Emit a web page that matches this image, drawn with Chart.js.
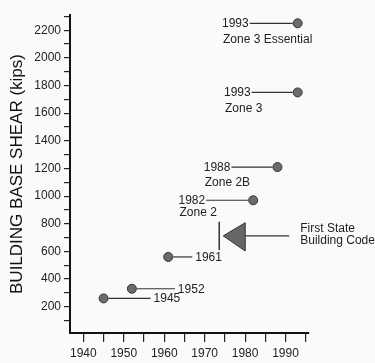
<!DOCTYPE html>
<html>
<head>
<meta charset="utf-8">
<script src="https://cdn.jsdelivr.net/npm/chart.js@4"></script>
<style>
  body { margin: 0; background: #fafafa; }
  canvas { display: block; }
</style>
</head>
<body>
<canvas id="chart" width="375" height="363"></canvas>
<script>
// code editions: year and base shear (kips)
var years = [1945, 1952, 1961, 1982, 1988, 1993, 1993];
var shear = [260, 330, 560, 970, 1210, 1750, 2250];
var yearLabels = ['1945', '1952', '1961', '1982', '1988', '1993', '1993'];
var zoneLabels = ['', '', '', 'Zone 2', 'Zone 2B', 'Zone 3', 'Zone 3 Essential'];

// first state building code marker
var codeYear = 1973.6;
var codeLow = 610;
var codeHigh = 815;
var codeText = ['First State', 'Building Code'];

var xTicks = [1940, 1945, 1950, 1955, 1960, 1965, 1970, 1975, 1980, 1985, 1990, 1995];
var yTicks = [];
for (var v = 100; v <= 2300; v += 100) yTicks.push(v);

// label placement (style only)
var labelSide = ['right', 'right', 'right', 'left', 'left', 'left', 'left'];
var leaderLen = [47, 43, 24, 47, 46, 46, 48];
var zoneGap = [0, 0, 0, 12, 16, 16, 16];

var FONT = '"Liberation Sans", Arial, Helvetica, sans-serif';
var INK = '#222';

var annotations = {
    id: 'annotations',
    afterDatasetsDraw: function (chart) {
        var ctx = chart.ctx;
        var xs = chart.scales.x;
        var ys = chart.scales.y;
        ctx.save();
        ctx.strokeStyle = '#333';
        ctx.lineWidth = 1.2;
        ctx.fillStyle = INK;
        ctx.font = '12px ' + FONT;
        ctx.textBaseline = 'middle';

        years.forEach(function (yr, i) {
            var px = xs.getPixelForValue(yr);
            var py = ys.getPixelForValue(shear[i]);
            var lead = leaderLen[i];
            ctx.beginPath();
            if (labelSide[i] === 'right') {
                ctx.moveTo(px + 5, py);
                ctx.lineTo(px + lead, py);
                ctx.stroke();
                ctx.textAlign = 'left';
                ctx.fillText(yearLabels[i], px + lead + 3, py + 0.5);
            } else {
                ctx.moveTo(px - 5, py);
                ctx.lineTo(px - lead, py);
                ctx.stroke();
                var w = ctx.measureText(yearLabels[i]).width;
                var left = px - lead - 1 - w;
                ctx.textAlign = 'left';
                ctx.fillText(yearLabels[i], left, py + 0.5);
                if (zoneLabels[i]) ctx.fillText(zoneLabels[i], left + 1, py + zoneGap[i]);
            }
        });

        // vertical bar and arrow
        var cx = xs.getPixelForValue(codeYear);
        var top = ys.getPixelForValue(codeHigh);
        var bot = ys.getPixelForValue(codeLow);
        var mid = (top + bot) / 2;
        ctx.lineWidth = 1.5;
        ctx.beginPath();
        ctx.moveTo(cx, top);
        ctx.lineTo(cx, bot);
        ctx.stroke();

        var tip = cx + 4;
        ctx.beginPath();
        ctx.moveTo(tip, mid);
        ctx.lineTo(tip + 22, top + 1);
        ctx.lineTo(tip + 22, bot + 1);
        ctx.closePath();
        ctx.fillStyle = '#666';
        ctx.fill();
        ctx.strokeStyle = '#333';
        ctx.lineWidth = 1;
        ctx.stroke();

        ctx.lineWidth = 1.2;
        ctx.beginPath();
        ctx.moveTo(tip + 22, mid);
        ctx.lineTo(tip + 66, mid);
        ctx.stroke();

        ctx.fillStyle = INK;
        ctx.textAlign = 'left';
        ctx.fillText(codeText[0], tip + 77, mid - 7);
        ctx.fillText(codeText[1], tip + 77, mid + 4.5);
        ctx.restore();
    }
};

var points = years.map(function (yr, i) {
    return { x: yr, y: shear[i] };
});

new Chart(document.getElementById('chart'), {
    type: 'scatter',
    data: {
        datasets: [{
            data: points,
            pointRadius: 4.5,
            pointBackgroundColor: '#6b6b6b',
            pointBorderColor: '#333',
            pointBorderWidth: 1
        }]
    },
    options: {
        responsive: false,
        animation: false,
        layout: { padding: { top: 15, right: 66, left: 0, bottom: 0 } },
        plugins: {
            legend: { display: false },
            tooltip: { enabled: false }
        },
        scales: {
            x: {
                type: 'linear',
                min: 1936.7,
                max: 1995.8,
                afterBuildTicks: function (scale) {
                    scale.ticks = xTicks.map(function (t) { return { value: t }; });
                },
                afterFit: function (scale) { scale.height = 30; },
                grid: { drawOnChartArea: false, tickLength: 9, color: INK, lineWidth: 1.2 },
                border: { color: '#111', width: 2 },
                ticks: {
                    padding: 4,
                    color: INK,
                    font: { family: FONT, size: 12 },
                    maxRotation: 0,
                    autoSkip: false,
                    callback: function (value) { return value % 10 === 0 ? String(value) : ''; }
                }
            },
            y: {
                type: 'linear',
                min: 10,
                max: 2310,
                afterBuildTicks: function (scale) {
                    scale.ticks = yTicks.map(function (t) { return { value: t }; });
                },
                afterFit: function (scale) { scale.width = 70; },
                grid: { drawOnChartArea: false, tickLength: 6, color: INK, lineWidth: 1.2 },
                border: { color: '#111', width: 2 },
                title: {
                    display: true,
                    text: 'BUILDING BASE SHEAR (kips)',
                    color: '#111',
                    font: { family: FONT, size: 17 },
                    padding: { top: 7, bottom: 0 }
                },
                ticks: {
                    padding: 3,
                    color: INK,
                    font: { family: FONT, size: 12 },
                    autoSkip: false,
                    callback: function (value) { return value % 200 === 0 ? String(value) : ''; }
                }
            }
        }
    },
    plugins: [annotations]
});
</script>
</body>
</html>
